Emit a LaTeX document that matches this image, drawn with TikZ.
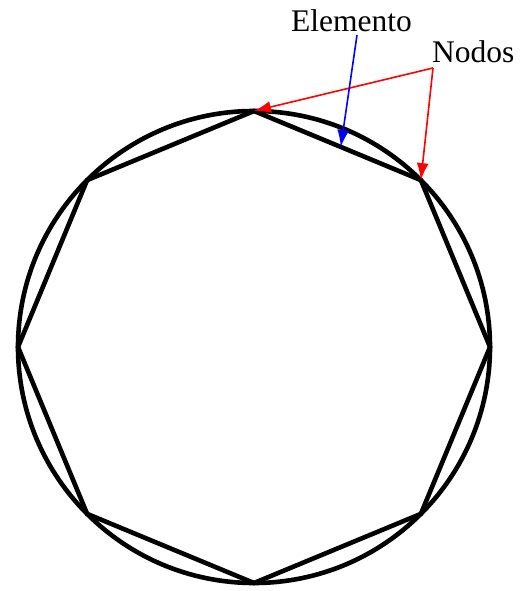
\documentclass[tikz,border=0pt]{standalone}
\usepackage{fontspec}
\setmainfont{Liberation Serif}
\usetikzlibrary{arrows.meta,calc}
\begin{document}
\begin{tikzpicture}[x=1pt,y=-1pt,
  shape line/.style={line width=4.6pt,line join=miter},
  lbl/.style={inner sep=0pt,anchor=base west,font=\fontsize{31.5}{36}\selectfont},
  pointer/.style={line width=1.6pt,-{Latex[length=17pt,width=12pt]}}]
\useasboundingbox (0,0) rectangle (519,591);
\coordinate (C) at (254,347);
\node[circle,draw,shape line,minimum size=472pt,inner sep=0pt] (circ) at (C) {};
\foreach \i in {0,...,7} {
  \coordinate (v\i) at ($(C)+({90-45*\i}:236pt)$);
}
\draw[shape line] (v0)--(v1)--(v2)--(v3)--(v4)--(v5)--(v6)--(v7)--cycle;
\node[lbl] (elem) at (291,32) {Elemento};
\node[lbl] (nodos) at (432,63) {Nodos};
\coordinate (rs) at (433,68);
\coordinate (bs) at (357,35);
\coordinate (bt) at ($(v0)!0.52!(v1)$);
\draw[pointer,red] (rs) -- (v0);
\draw[pointer,red] (rs) -- (v1);
\draw[pointer,blue] (bs) -- (bt);
\end{tikzpicture}
\end{document}
